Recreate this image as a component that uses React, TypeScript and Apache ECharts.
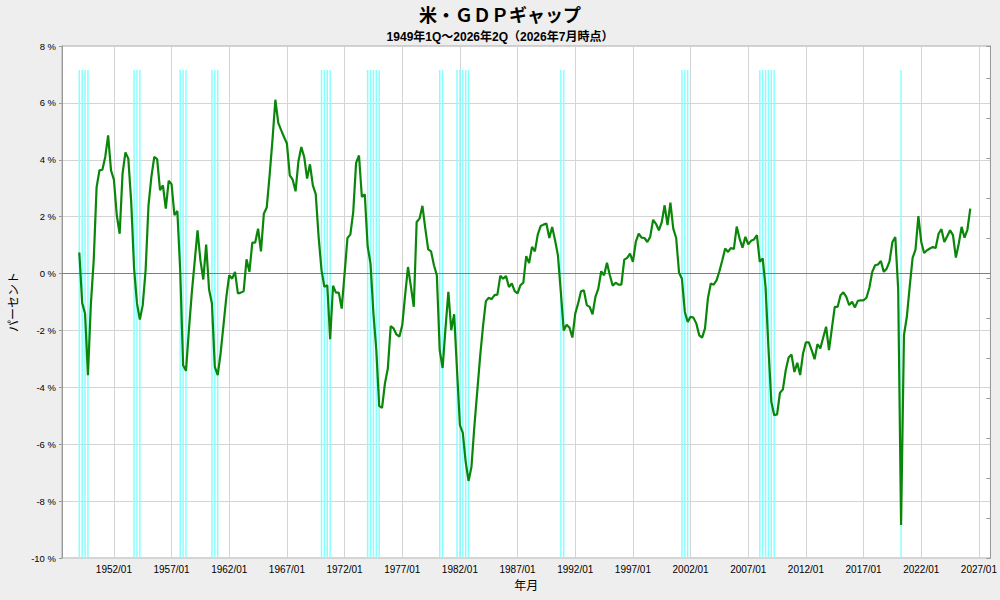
import React, { useEffect, useRef } from "react";
import * as echarts from "echarts";

// ---- data (quarterly US GDP gap, %, from 1949Q1) ----
const FIRST_DATA_QUARTER = "1949/01";

const gap1949_1958: number[] = [
  0.74, -1.03, -1.41, -3.57, -1.1, 0.47, 3.04, 3.63, 3.65, 4.1,
  4.86, 3.63, 3.3, 2.05, 1.4, 3.51, 4.26, 4.04, 2.52, 0.18,
  -1.05, -1.62, -1.11, 0.12, 2.4, 3.4, 4.1, 4.02, 2.93, 3.1,
  2.28, 3.26, 3.14, 2.05, 2.2, 0.1, -3.22, -3.42, -2.0, -0.7,
];
const gap1959_1968: number[] = [
  0.4, 1.52, 0.47, -0.21, 1.02, -0.56, -1.05, -3.28, -3.57, -2.81,
  -1.82, -0.82, -0.06, -0.18, 0.06, -0.7, -0.67, -0.62, 0.5, 0.06,
  1.09, 1.09, 1.58, 0.78, 2.1, 2.32, 3.45, 4.7, 6.11, 5.3,
  5.04, 4.8, 4.57, 3.45, 3.3, 2.89, 3.95, 4.45, 4.1, 3.34,
];
const gap1969_1978: number[] = [
  3.84, 3.1, 2.79, 1.29, 0.12, -0.47, -0.41, -2.31, -0.43, -0.67,
  -0.67, -1.23, 0.0, 1.25, 1.37, 2.16, 3.89, 4.15, 2.69, 2.79,
  0.96, 0.35, -1.4, -2.67, -4.65, -4.72, -3.86, -3.34, -1.85, -1.93,
  -2.14, -2.22, -1.82, -0.76, 0.23, -0.45, -1.17, 1.81, 1.93, 2.38,
];
const gap1979_1988: number[] = [
  1.58, 0.85, 0.78, 0.29, -0.06, -2.7, -3.32, -1.93, -0.64, -1.99,
  -1.43, -3.4, -5.33, -5.6, -6.62, -7.29, -6.8, -5.39, -4.16, -2.93,
  -1.87, -0.97, -0.85, -0.9, -0.76, -0.74, -0.08, -0.18, -0.09, -0.47,
  -0.35, -0.62, -0.7, -0.41, -0.32, 0.61, 0.37, 0.94, 0.78, 1.37,
];
const gap1989_1998: number[] = [
  1.67, 1.72, 1.76, 1.25, 1.64, 1.17, 0.64, -0.65, -2.0, -1.8,
  -1.9, -2.25, -1.41, -1.05, -0.62, -0.59, -1.11, -1.17, -1.43, -0.82,
  -0.53, 0.08, -0.06, 0.38, -0.06, -0.43, -0.32, -0.39, -0.39, 0.49,
  0.55, 0.7, 0.41, 1.11, 1.4, 1.26, 1.25, 1.11, 1.29, 1.89,
];
const gap1999_2008: number[] = [
  1.75, 1.52, 1.81, 2.4, 1.7, 2.49, 1.58, 1.25, 0.03, -0.18,
  -1.35, -1.7, -1.52, -1.55, -1.76, -2.17, -2.25, -1.93, -0.88, -0.35,
  -0.39, -0.24, 0.08, 0.47, 0.88, 0.76, 0.9, 0.86, 1.65, 1.23,
  0.91, 1.29, 1.03, 1.15, 1.2, 1.35, 0.41, 0.53, -0.47, -2.6,
];
const gap2009_2018: number[] = [
  -4.51, -4.98, -4.95, -4.19, -4.08, -3.4, -2.95, -2.85, -3.46, -3.14,
  -3.57, -2.81, -2.42, -2.42, -2.69, -3.01, -2.48, -2.63, -2.25, -1.87,
  -2.69, -1.93, -1.17, -1.17, -0.76, -0.66, -0.82, -1.11, -0.99, -1.19,
  -0.96, -0.94, -0.94, -0.85, -0.5, 0.06, 0.29, 0.32, 0.44, 0.06,
];
const gap2019_2026: number[] = [
  0.17, 0.43, 1.11, 1.28, -0.55, -8.84, -2.17, -1.52, -0.45, 0.55,
  0.84, 2.02, 1.11, 0.72, 0.82, 0.88, 0.93, 0.9, 1.4, 1.56,
  1.11, 1.31, 1.52, 1.35, 0.56, 1.05, 1.64, 1.26, 1.54, 2.28,
];

// recession quarters (shaded)
const recessionQuarters: string[] = [
  "1949/01", "1949/04", "1949/07", "1949/10",
  "1953/10", "1954/01", "1954/04",
  "1957/10", "1958/01", "1958/04",
  "1960/07", "1960/10", "1961/01",
  "1970/01", "1970/04", "1970/07", "1970/10",
  "1974/01", "1974/04", "1974/07", "1974/10", "1975/01",
  "1980/04", "1980/07",
  "1981/10", "1982/01", "1982/04", "1982/07", "1982/10",
  "1990/10", "1991/01",
  "2001/04", "2001/07", "2001/10",
  "2008/01", "2008/04", "2008/07", "2008/10", "2009/01", "2009/04",
  "2020/04",
];

// axis range (quarters) and tick labels
const QUARTER_SUFFIX = ["01", "04", "07", "10"];
const AXIS_FIRST = "1947/07";
const AXIS_LAST = "2028/01";
const LABEL_BASE_YEAR = 1952;
const LABEL_STEP_YEARS = 5;

const parseQ = (s: string) => {
  const [y, m] = s.split("/");
  return parseInt(y, 10) * 4 + QUARTER_SUFFIX.indexOf(m);
};

const categories: string[] = [];
for (let t = parseQ(AXIS_FIRST); t <= parseQ(AXIS_LAST); t++) {
  categories.push(`${Math.floor(t / 4)}/${QUARTER_SUFFIX[t % 4]}`);
}

const gapValues: number[] = [
  ...gap1949_1958, ...gap1959_1968, ...gap1969_1978, ...gap1979_1988,
  ...gap1989_1998, ...gap1999_2008, ...gap2009_2018, ...gap2019_2026,
];

const FONT = "'Liberation Sans', Arial, 'Noto Sans CJK JP', sans-serif";

export default function App() {
  const ref = useRef<HTMLDivElement>(null);
  useEffect(() => {
    if (!ref.current) return;
    const chart = echarts.init(ref.current, undefined, { renderer: "svg" });
    const startIdx = categories.indexOf(FIRST_DATA_QUARTER);
    const lineData = categories.map((_, i) => {
      const k = i - startIdx;
      return k >= 0 && k < gapValues.length ? gapValues[k] : null;
    });
    const recSet = new Set(recessionQuarters);
    const RECESSION_TOP = 12.2;
    const recData = categories.map((c) => (recSet.has(c) ? RECESSION_TOP : null));
    const isMajor = (_i: number, v: string) =>
      v.endsWith("/01") && (parseInt(v, 10) - LABEL_BASE_YEAR) % LABEL_STEP_YEARS === 0;

    chart.setOption({
      animation: false,
      backgroundColor: "#eeeeee",
      textStyle: { fontFamily: FONT },
      title: [
        {
          text: "米・ＧＤＰギャップ",
          left: "center",
          top: 2,
          textStyle: { fontSize: 18, fontWeight: "bold", color: "#000", fontFamily: FONT },
        },
        {
          text: "1949年1Q～2026年2Q（2026年7月時点）",
          left: "center",
          top: 26,
          textStyle: { fontSize: 12, fontWeight: "bold", color: "#000", fontFamily: FONT },
        },
      ],
      grid: {
        left: 62,
        right: 7,
        top: 46,
        bottom: 42,
        show: true,
        backgroundColor: "#ffffff",
        borderColor: "#aaaaaa",
        borderWidth: 1,
      },
      xAxis: {
        type: "category",
        data: categories,
        boundaryGap: false,
        name: "年月",
        nameLocation: "middle",
        nameGap: 22,
        nameTextStyle: { fontSize: 12, color: "#000", fontFamily: FONT },
        axisLine: { show: true, lineStyle: { color: "#999999" } },
        axisTick: { show: false },
        axisLabel: { interval: isMajor, fontSize: 10, color: "#000", margin: 6, fontFamily: FONT },
        splitLine: { show: true, interval: isMajor, lineStyle: { color: "#d4d4d4", width: 1 } },
      },
      yAxis: [
        {
          type: "value",
          min: -10,
          max: 8,
          interval: 2,
          position: "left",
          name: "パーセント",
          nameLocation: "middle",
          nameGap: 35,
          nameRotate: 90,
          nameTextStyle: { fontSize: 12, color: "#000", fontFamily: FONT },
          axisLine: { show: true, lineStyle: { color: "#999999" } },
          axisTick: { show: true, length: 3, lineStyle: { color: "#999999" } },
          axisLabel: { formatter: "{value} %", fontSize: 9.5, color: "#000", margin: 6, fontFamily: FONT },
          splitLine: { show: true, lineStyle: { color: "#d4d4d4", width: 1 } },
        },
        {
          type: "value",
          min: 0,
          max: 12.8,
          interval: 1,
          position: "right",
          axisLine: { show: true, lineStyle: { color: "#999999" } },
          axisTick: { show: true, inside: true, length: 4, lineStyle: { color: "#999999" } },
          axisLabel: { show: false },
          splitLine: { show: false },
        },
      ],
      series: [
        {
          type: "bar",
          yAxisIndex: 1,
          data: recData,
          barWidth: 1.5,
          itemStyle: { color: "#88ffff" },
          silent: true,
          z: 1,
        },
        {
          type: "line",
          data: lineData,
          showSymbol: false,
          connectNulls: false,
          lineStyle: { color: "#0a870a", width: 2.2 },
          z: 3,
          markLine: {
            silent: true,
            symbol: "none",
            label: { show: false },
            lineStyle: { color: "#7474cc", width: 1, type: "solid" },
            data: [{ yAxis: 0 }],
            z: 2,
          },
        },
      ],
    });
    return () => chart.dispose();
  }, []);
  return (
    <div
      ref={ref}
      style={{ position: "absolute", left: 0, top: 0, width: 1000, height: 600 }}
    />
  );
}
